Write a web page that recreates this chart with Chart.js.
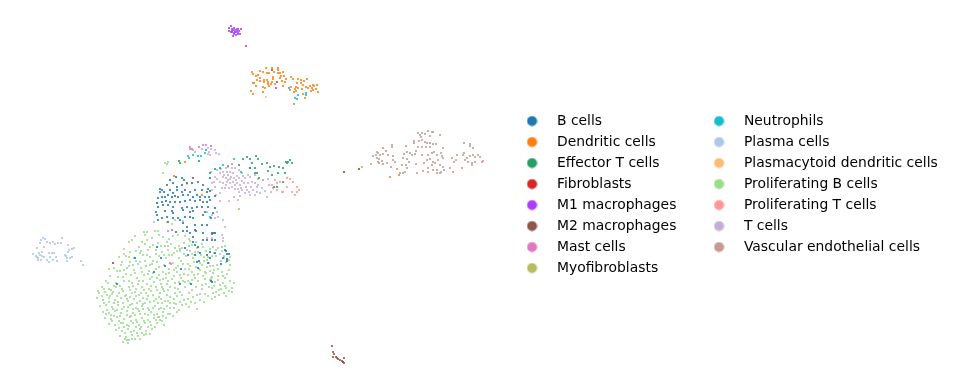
<!DOCTYPE html>
<html><head><meta charset="utf-8">
<style>html,body{margin:0;padding:0;background:#fff}canvas{display:block}</style>
<script src="https://cdn.jsdelivr.net/npm/chart.js@4"></script></head>
<body><canvas id="c" width="953" height="389"></canvas>
<script>
const categories=["B cells","Dendritic cells","Effector T cells","Fibroblasts","M1 macrophages","M2 macrophages","Mast cells","Myofibroblasts","Neutrophils","Plasma cells","Plasmacytoid dendritic cells","Proliferating B cells","Proliferating T cells","T cells","Vascular endothelial cells"];
const colors=["#1f77b4","#ff7f0e","#279e68","#d62728","#aa40fc","#8c564b","#e377c2","#b5bd61","#17becf","#aec7e8","#ffbb78","#98df8a","#ff9896","#c5b0d5","#c49c94"];
const bCells=[[17.6,17.7],[18.2,17.8],[18.4,18.0],[17.0,18.0],[16.7,18.5],[17.3,18.3],[17.7,18.7],[18.2,18.5],[18.7,18.3],[19.2,18.3],[19.8,18.2],[20.3,18.5],[21.0,17.8],[16.0,18.9],[16.2,19.0],[16.0,19.2],[16.4,19.2],[17.0,19.0],[17.3,19.3],[17.7,19.0],[18.2,19.2],[18.5,19.0],[19.0,19.2],[19.5,19.0],[20.2,19.0],[20.7,19.2],[20.8,18.9],[21.0,19.1],[15.8,19.8],[16.2,19.7],[16.5,19.7],[16.8,19.5],[17.2,19.7],[17.5,19.6],[17.8,19.7],[18.3,19.5],[18.8,19.5],[19.3,19.7],[19.7,19.5],[20.0,19.7],[20.5,19.7],[20.9,19.7],[21.5,19.6],[15.7,20.3],[16.2,20.2],[16.6,20.1],[17.0,20.2],[17.5,20.2],[18.0,20.2],[18.5,20.1],[19.0,20.0],[19.5,20.1],[20.0,20.0],[20.3,20.2],[20.7,20.2],[21.0,20.0],[15.8,20.7],[16.3,20.5],[16.8,20.5],[17.3,20.7],[18.2,20.8],[18.7,20.7],[19.2,20.8],[19.7,20.7],[20.2,20.7],[20.8,20.7],[15.6,21.2],[16.5,21.1],[17.2,21.1],[17.3,21.3],[18.3,21.0],[19.0,21.2],[19.3,21.1],[21.3,21.3],[20.5,21.2],[15.7,21.5],[15.8,22.0],[16.7,21.7],[17.8,21.8],[18.0,22.0],[18.5,21.7],[19.0,21.7],[19.3,21.8],[17.3,21.8],[20.3,21.5],[21.1,21.8],[21.5,20.8],[16.2,21.8],[16.8,22.2],[18.3,22.3],[19.5,22.5],[20.2,22.5],[20.7,22.5],[18.7,22.7],[19.5,23.0],[19.0,23.3],[18.3,23.1],[21.2,23.3],[21.5,23.3],[19.3,23.7],[20.3,23.3],[15.7,24.7],[13.5,25.8],[16.1,25.8],[16.5,26.6],[15.4,27.2],[11.7,28.4],[18.0,28.4],[17.6,23.2],[19.6,23.1],[18.7,23.1],[21.2,23.4],[21.4,23.3],[19.3,24.2],[19.5,24.5],[19.8,24.7],[18.5,24.8],[20.3,24.0],[20.7,24.0],[21.2,24.0],[21.5,24.0],[20.0,25.3],[18.8,25.5],[19.5,25.5],[20.7,25.5],[21.0,25.2],[21.5,25.3],[19.9,26.1],[19.7,26.2],[18.1,26.9],[19.8,26.8],[20.8,26.3],[22.1,26.4],[21.0,25.8],[22.6,25.1],[22.7,25.4],[22.3,25.8],[22.9,25.4],[22.7,26.1],[22.5,25.0],[19.1,28.4],[21.1,28.1],[21.2,28.2],[22.7,25.9]];
const dendriticCells=[[25.2,7.2],[25.3,7.4],[25.6,7.6],[25.8,7.5],[26.0,7.1],[26.3,7.2],[26.6,6.8],[26.7,7.3],[26.9,7.3],[27.2,6.8],[27.4,7.2],[27.8,6.8],[27.8,7.0],[27.8,7.3],[28.0,7.3],[28.3,7.2],[28.4,7.6],[28.1,7.6],[28.0,7.8],[27.3,7.7],[27.3,7.9],[26.0,7.8],[25.7,8.0],[25.4,8.3],[25.3,8.3],[26.0,8.1],[26.4,8.0],[26.4,8.2],[26.7,8.0],[26.8,8.2],[27.2,8.2],[27.1,8.4],[26.8,8.4],[26.9,8.6],[27.5,8.4],[26.3,8.7],[26.5,8.8],[25.6,8.6],[25.1,9.1],[25.3,9.4],[26.3,9.2],[28.2,8.1],[28.3,8.6],[28.5,8.2],[29.1,8.7],[29.1,7.7],[29.3,7.9],[29.8,7.9],[30.1,8.0],[30.4,8.1],[30.7,7.9],[29.7,8.3],[30.1,8.3],[30.3,8.5],[29.6,8.7],[29.5,8.9],[29.8,8.8],[30.2,8.9],[30.6,8.7],[30.8,8.8],[31.0,8.6],[31.3,8.5],[31.4,8.6],[31.7,8.5],[31.2,8.8],[31.3,9.0],[31.6,8.9],[31.1,9.1],[31.8,9.2],[29.0,9.0],[29.4,9.2],[29.6,9.1],[30.3,9.4],[30.5,9.8],[29.4,10.4],[28.6,7.9],[39.0,17.7],[39.9,17.5],[17.4,17.6],[18.5,16.2],[20.2,19.5]];
const effectorTCells=[[17.9,16.1],[19.9,16.1],[21.0,17.3],[21.5,16.9],[22.0,16.8],[23.9,16.5],[24.3,15.9],[24.7,15.7],[25.0,15.9],[25.2,16.3],[25.6,15.6],[25.8,15.9],[26.2,16.4],[26.7,16.3],[27.0,16.7],[27.4,16.6],[27.9,16.7],[28.3,16.8],[28.6,16.2],[28.8,16.2],[29.2,16.3],[29.0,16.0],[28.7,16.3],[25.5,17.3],[25.7,17.3],[25.9,17.8],[26.8,17.1],[27.2,17.5],[27.8,17.3],[28.5,17.3],[27.4,18.7],[27.7,18.7],[28.3,18.2],[25.5,16.8],[25.0,16.8],[18.0,16.3]];
const fibroblasts=[[34.4,17.2],[35.9,16.9]];
const m1Macrophages=[[23.1,2.6],[22.9,2.8],[23.2,2.9],[23.4,2.8],[23.7,2.9],[23.8,2.9],[24.1,2.9],[22.9,3.1],[23.2,3.1],[23.3,3.0],[23.5,3.0],[23.7,3.1],[23.9,3.1],[23.2,3.2],[23.4,3.3],[23.6,3.2],[23.8,3.3],[23.1,3.2],[23.4,3.4],[23.6,3.5],[23.8,3.4],[24.0,3.4],[23.3,3.6],[23.5,3.2],[24.6,4.6],[27.6,8.8]];
const m2Macrophages=[[33.2,34.6],[33.3,35.2],[33.4,35.4],[33.3,35.7],[33.6,35.7],[33.7,35.8],[33.8,35.9],[34.0,36.0],[34.2,36.1],[34.3,36.2],[34.4,35.8],[34.4,36.3],[34.3,36.2],[11.3,26.3],[27.7,8.2],[27.2,7.0],[25.0,16.8],[19.3,17.8]];
const mastCells=[[19.0,14.9],[19.2,14.9],[19.9,14.7],[20.3,14.5],[20.6,14.5],[21.1,14.6],[19.0,14.7],[23.2,16.4],[17.0,26.3],[16.8,23.1],[17.1,26.4],[17.2,23.0]];
const myofibroblasts=[[36.2,16.7],[37.1,16.4],[23.9,20.9]];
const neutrophils=[[28.9,8.8],[29.5,9.8],[29.7,9.9],[29.8,9.5],[30.6,9.3],[30.6,9.5],[18.8,15.6],[18.9,15.8],[19.3,15.5],[19.8,15.6],[20.1,15.6],[20.6,15.0],[20.5,15.3],[22.3,16.5],[22.8,16.6],[23.4,15.9],[24.1,17.2],[21.0,21.7]];
const plasmaCells=[[4.1,24.0],[4.3,23.8],[4.5,23.9],[4.7,24.2],[5.0,24.3],[5.3,24.2],[5.5,24.4],[5.8,24.3],[6.1,24.3],[6.2,23.8],[6.8,24.5],[7.2,24.9],[7.4,24.8],[3.7,24.8],[4.4,24.7],[3.3,25.4],[3.7,25.7],[3.8,25.8],[4.0,25.5],[4.2,25.6],[4.4,25.7],[4.1,26.0],[4.9,26.2],[4.9,25.3],[5.2,25.3],[5.4,25.3],[5.6,25.7],[5.3,26.0],[5.7,26.1],[6.5,25.5],[6.7,25.8],[6.7,26.1],[7.0,25.8],[7.2,25.7],[6.8,25.2],[6.9,25.0],[8.1,26.1],[8.3,26.5],[3.6,25.6],[4.7,26.0],[3.9,25.3],[4.2,25.2],[3.8,26.0],[5.0,25.7],[6.6,25.6],[4.0,24.3]];
const plasmacytoidDendriticCells=[[26.6,9.7],[18.7,18.4],[16.7,22.2]];
const proliferatingBCells=[[14.7,23.2],[15.5,23.1],[13.5,23.6],[15.2,23.8],[14.7,24.0],[16.3,23.7],[16.9,23.9],[17.8,23.5],[18.5,23.6],[12.9,24.2],[13.2,24.0],[13.9,24.7],[14.5,24.4],[15.3,24.5],[15.8,24.3],[16.5,24.6],[17.1,24.4],[17.9,24.6],[18.4,24.3],[19.2,24.5],[12.4,24.9],[13.0,25.2],[14.1,25.1],[14.8,25.0],[15.6,25.0],[16.2,25.2],[16.8,25.0],[17.4,25.3],[18.0,25.1],[18.7,25.0],[19.5,25.2],[20.3,24.7],[21.0,24.9],[21.8,24.8],[22.5,24.6],[11.9,25.7],[12.6,25.6],[13.4,25.8],[14.3,25.5],[15.0,25.7],[15.9,25.6],[16.6,25.8],[17.2,25.5],[17.9,25.8],[18.6,25.6],[19.3,25.8],[20.1,25.5],[20.8,25.7],[21.6,25.6],[22.4,25.8],[11.3,26.3],[12.1,26.5],[13.0,26.2],[13.8,26.4],[14.5,26.1],[15.2,26.4],[15.7,26.2],[16.4,26.5],[17.3,26.3],[18.1,26.1],[18.8,26.4],[19.4,26.2],[20.2,26.5],[20.9,26.3],[21.7,26.5],[22.6,26.2],[23.0,26.5],[10.9,26.9],[12.0,27.1],[12.7,26.8],[13.4,27.0],[14.1,26.8],[14.9,27.1],[15.6,26.9],[16.3,27.2],[16.9,26.9],[17.7,27.2],[18.5,26.9],[19.2,27.2],[20.0,27.0],[20.6,27.3],[21.4,27.0],[22.2,27.2],[22.9,27.0],[11.0,27.6],[12.3,27.7],[13.1,27.5],[13.7,27.8],[14.4,27.5],[15.2,27.7],[15.9,27.5],[16.6,27.8],[17.4,27.6],[18.1,27.8],[18.8,27.5],[19.5,27.8],[20.3,27.6],[21.1,27.8],[21.8,27.6],[22.5,27.8],[10.6,28.1],[11.6,28.3],[12.4,28.1],[13.2,28.3],[13.9,28.1],[14.7,28.4],[15.4,28.2],[16.1,28.4],[16.8,28.1],[17.5,28.3],[18.3,28.1],[19.0,28.3],[19.8,28.1],[20.6,28.4],[21.5,28.2],[22.3,28.3],[23.0,28.1],[23.4,28.3],[10.2,28.7],[10.9,28.9],[11.6,28.7],[12.2,28.9],[12.9,28.7],[13.6,28.9],[14.2,28.7],[14.9,28.9],[15.6,28.7],[16.3,28.9],[17.0,28.7],[17.8,28.9],[18.5,28.7],[19.2,29.0],[20.2,28.9],[21.2,28.8],[21.9,29.0],[22.6,28.8],[23.2,28.8],[9.9,29.3],[10.5,29.2],[11.2,29.4],[11.9,29.3],[12.6,29.5],[13.2,29.3],[13.9,29.5],[14.6,29.3],[15.3,29.5],[16.0,29.3],[16.7,29.5],[17.5,29.3],[18.2,29.5],[18.9,29.3],[19.7,29.5],[20.5,29.4],[21.3,29.3],[21.9,29.5],[22.4,29.3],[22.9,29.1],[9.7,29.8],[10.3,30.0],[10.9,29.8],[11.5,30.0],[12.1,29.8],[12.8,30.1],[13.4,29.9],[14.0,30.1],[14.7,29.9],[15.4,30.1],[16.1,29.9],[16.8,30.1],[17.4,29.9],[18.0,30.2],[18.8,29.9],[20.0,30.0],[21.2,29.9],[10.0,30.6],[10.6,30.5],[11.2,30.7],[11.8,30.5],[12.4,30.7],[13.0,30.5],[13.6,30.8],[14.2,30.6],[14.8,30.8],[15.5,30.6],[16.1,30.8],[16.7,30.6],[17.4,30.8],[18.2,30.5],[18.9,30.7],[10.3,31.2],[10.9,31.3],[11.5,31.1],[12.1,31.3],[12.7,31.1],[13.3,31.3],[13.9,31.1],[14.5,31.4],[15.1,31.2],[15.7,31.4],[16.3,31.2],[17.0,31.4],[17.7,31.2],[10.5,31.8],[11.1,31.9],[11.7,31.7],[12.4,31.9],[13.0,31.7],[13.6,32.0],[14.2,31.8],[14.8,32.0],[15.4,31.8],[16.0,32.0],[16.6,31.8],[17.3,31.6],[10.9,32.4],[11.5,32.5],[12.1,32.3],[12.7,32.5],[13.3,32.3],[13.9,32.5],[14.5,32.3],[15.1,32.5],[15.7,32.3],[16.4,32.5],[11.6,33.0],[12.2,33.1],[12.8,32.9],[13.4,33.1],[14.0,32.9],[14.6,33.1],[15.2,32.9],[12.0,33.6],[12.6,33.7],[13.2,33.5],[13.8,33.6],[14.4,33.5],[15.0,33.4],[12.3,34.2],[12.9,34.0],[13.5,33.9],[12.5,33.9],[14.0,33.9],[12.5,29.6],[14.3,30.4],[11.4,30.3],[15.8,30.3],[13.1,31.6],[15.4,31.5],[12.4,32.7],[14.2,33.3],[16.8,29.0],[19.6,26.7],[17.8,26.6],[20.7,26.7],[22.2,25.1],[21.3,24.7],[16.5,16.3],[16.7,16.4],[16.8,16.2],[16.3,17.3],[15.4,22.2],[15.8,23.1],[17.5,22.0],[17.2,22.4],[14.5,23.5],[18.9,23.9],[19.6,24.2],[21.1,28.0],[20.5,27.9],[19.0,26.6],[17.0,29.7],[15.1,29.1],[13.3,28.6],[12.4,27.0],[11.0,29.6],[13.6,26.1],[15.0,26.5],[16.6,27.4],[18.4,27.4],[22.1,28.9],[21.5,29.7],[19.7,30.9],[17.9,31.0],[17.6,30.4],
[11.1,29.0],[11.3,29.2],[10.7,29.5],[10.4,28.9],[11.7,29.6],[12.3,29.1],[12.0,28.6],[11.4,28.6],[10.8,28.3],[13.0,29.0],[13.5,29.2],[13.8,28.4],[14.4,29.0],[14.1,29.3],[14.8,29.6],[15.1,28.6],[15.7,29.0],[15.9,29.7],[16.4,29.1],[16.2,28.7],[13.0,29.7],[13.6,29.6],[14.3,29.8],[11.8,30.2],[12.3,30.3],[12.7,29.9],[13.2,30.4],[13.7,30.3],[14.5,30.3],[15.0,30.2],[15.6,29.9],[16.2,30.3],[16.5,30.1],[17.0,30.3],[10.9,30.2],[10.4,30.3],[10.7,31.0],[11.3,30.9],[11.7,31.0],[12.2,30.9],[12.8,30.7],[13.3,30.9],[13.8,30.9],[14.3,30.9],[14.9,31.0],[15.3,30.8],[15.9,30.9],[16.4,30.9],[17.0,30.8],[17.4,30.3],[11.1,31.5],[11.4,31.6],[12.0,31.6],[12.7,31.5],[13.5,31.5],[14.0,31.4],[14.8,31.5],[15.8,31.7],[16.3,31.6],[16.8,31.4],[11.2,32.1],[11.9,32.1],[12.3,32.3],[13.1,32.1],[13.7,32.2],[14.4,32.1],[15.0,32.2],[15.6,32.0],[16.2,32.1],[12.9,32.6],[13.6,32.7],[14.1,32.7],[14.8,32.7],[15.5,32.7],[11.9,32.8],[12.5,33.3],[13.1,33.2],[13.7,33.3],[14.6,33.4],[12.7,34.0],[13.2,33.9],[12.8,34.3],[11.4,26.8],[11.7,27.1],[12.2,26.2],[12.9,26.6],[13.3,26.5],[14.0,26.2],[14.6,26.6],[15.3,26.1],[15.9,26.7],[13.5,27.3],[14.2,27.2],[14.8,27.4],[15.3,27.3],[15.7,27.8],[12.6,27.4],[11.8,27.7],[12.9,28.1],[14.3,28.1],[15.0,27.9],[16.0,28.0],[16.7,28.4],[17.2,27.9],[17.9,28.2],[17.5,28.8],[18.0,29.2],[18.5,28.2],[17.7,29.6],[18.4,30.0],[19.3,29.7],[19.1,30.2],[16.3,27.9],[16.9,27.3],[17.6,26.8],[18.3,26.4],[18.9,26.9],[19.4,27.5],[19.9,26.9],[20.4,26.1],[20.5,27.2],[21.0,27.1],[21.3,26.6],[21.8,26.9],[22.1,26.1],[21.2,27.7],[21.8,28.0],[22.3,27.6],[22.7,27.4],[22.0,28.5],[22.5,28.6],[21.4,28.6],[20.9,28.7],[20.2,28.5],[19.6,28.7],[19.2,28.0],[18.8,28.1],[18.0,27.5],[17.4,27.0],[19.8,27.4],[20.0,26.3],[20.4,25.7],[19.8,25.2],[19.2,25.4],[18.4,25.4],[17.7,25.1],[16.9,25.5],[16.4,25.5],[15.6,25.4],[14.7,25.5],[14.0,25.3],[13.6,25.1],[12.9,25.7],[12.4,25.4],[15.0,24.7],[14.2,24.2],[16.1,24.6],[16.7,24.2],[17.5,24.8],[18.2,24.8],[18.9,24.6],[19.7,24.8],[20.6,25.1],[21.4,25.3],[22.0,25.4],[23.0,25.7],[22.9,26.0],[21.2,25.6],[20.7,26.0],[19.0,24.1],[17.3,23.6],[15.9,23.5],[14.4,23.2],[23.2,29.2],[22.6,29.6],[21.6,29.2],[20.8,29.6],[20.4,30.2],[19.5,30.3],[18.6,30.4],[10.2,29.6],[10.6,31.4],[9.8,29.1]];
const proliferatingTCells=[[26.3,18.0],[26.9,18.5],[27.2,18.5],[27.5,18.0],[27.7,18.3],[27.7,19.0],[28.2,19.2],[28.7,18.7],[28.7,17.8],[29.0,17.9],[29.3,18.2],[29.7,18.7],[29.9,19.0],[29.7,19.2],[29.5,19.5],[29.2,19.2],[28.0,18.2],[28.3,19.2],[27.3,18.8],[15.9,31.7]];
const tCells=[[19.3,15.0],[19.5,15.2],[20.2,14.9],[20.6,15.0],[20.8,14.8],[21.1,14.6],[20.9,15.2],[21.1,14.9],[21.5,15.0],[21.6,15.3],[21.9,15.4],[20.8,15.4],[21.0,15.5],[21.1,17.2],[21.5,17.7],[21.7,17.9],[21.4,18.2],[22.0,17.3],[22.1,16.9],[22.3,17.2],[22.6,16.8],[22.8,16.7],[23.2,16.8],[23.5,16.8],[23.9,17.0],[24.2,17.3],[22.3,17.7],[22.6,17.8],[22.8,17.5],[23.1,17.7],[23.3,17.3],[23.7,17.6],[23.9,17.8],[24.2,18.1],[24.5,17.8],[24.8,17.5],[22.0,18.2],[22.3,18.3],[22.7,18.2],[23.0,18.3],[23.3,18.2],[23.7,18.3],[24.0,18.5],[24.4,18.3],[24.8,18.3],[25.2,18.2],[25.5,18.3],[25.8,18.5],[24.7,19.0],[24.2,19.0],[23.9,19.2],[24.5,19.3],[25.0,19.5],[25.5,19.5],[26.0,19.3],[26.5,19.1],[26.2,18.8],[25.3,19.0],[25.7,19.2],[22.9,18.8],[23.5,18.9],[22.0,19.3],[21.6,19.5],[22.0,20.1],[22.9,20.1],[23.4,19.7],[23.8,20.0],[24.0,19.6],[22.6,18.5],[23.2,18.7],[22.2,18.8],[21.5,18.7],[21.2,19.0],[25.0,17.7],[25.5,17.5],[25.8,17.9],[26.3,18.0],[26.8,17.9],[27.1,19.2],[26.7,19.7],[21.2,18.3],[24.6,18.7],[25.1,18.7],[25.7,18.7],[24.3,17.6],[22.7,17.2],[23.4,17.8],[21.7,17.0],[23.0,17.9],[21.7,21.2],[21.8,21.7],[22.3,22.0],[22.5,22.7],[22.2,23.5],[22.3,23.8],[20.7,21.2],[21.2,21.5],[17.2,23.0],[21.2,23.8],[20.7,23.8],[21.5,21.8],[18.3,22.1],[22.4,25.6],[21.6,25.0],[22.2,24.7],[21.0,26.6],[21.3,27.3],[20.0,29.4],[18.0,24.9],[16.8,24.6],[21.0,28.0],[19.0,25.1],[22.3,24.1],[20.2,24.4],[22.4,17.5],[23.6,18.0],[24.1,18.8],[22.8,18.0],[23.0,17.2],[23.5,18.5],[22.5,18.8],[23.8,18.9],[24.9,19.2]];
const vascularEndothelialCells=[[37.7,15.2],[37.8,15.3],[37.6,15.5],[37.3,15.6],[38.0,15.5],[37.7,15.8],[37.9,15.9],[38.2,16.1],[37.8,16.2],[38.3,14.8],[38.6,15.1],[38.3,15.4],[38.8,15.5],[39.2,14.5],[39.2,14.7],[39.3,15.6],[39.3,16.0],[39.5,16.2],[38.7,16.3],[38.3,16.4],[37.9,16.3],[39.1,16.7],[40.6,14.6],[40.7,15.2],[40.4,15.4],[40.3,15.8],[41.0,15.3],[41.2,15.5],[41.5,15.4],[41.6,15.1],[40.7,15.9],[40.6,16.5],[40.2,16.5],[40.9,16.2],[41.6,16.4],[39.7,16.9],[40.0,17.3],[40.3,17.3],[40.7,16.8],[40.5,17.2],[41.7,17.3],[42.0,13.5],[42.2,13.3],[42.5,13.4],[42.8,13.1],[43.2,13.2],[43.3,13.2],[41.8,13.3],[42.1,13.7],[43.0,13.6],[44.0,13.5],[41.4,14.1],[41.4,14.3],[41.9,14.1],[42.2,14.0],[42.5,14.2],[42.7,14.3],[43.0,14.3],[43.3,14.4],[43.6,14.4],[41.8,14.7],[42.2,14.7],[42.6,14.7],[43.0,14.7],[44.3,14.8],[42.2,15.5],[42.8,15.5],[43.2,15.3],[43.4,15.2],[43.7,15.5],[44.1,15.3],[44.2,15.6],[42.7,16.0],[42.4,16.3],[43.0,15.9],[43.3,16.2],[43.8,16.0],[44.3,15.8],[43.2,16.5],[43.5,16.3],[44.0,16.5],[44.3,16.7],[42.3,17.1],[42.8,16.8],[42.8,17.2],[43.3,17.0],[43.7,17.0],[44.1,17.2],[44.4,17.0],[43.7,17.3],[44.0,17.3],[45.0,16.8],[45.3,17.2],[45.2,15.8],[45.4,16.2],[45.7,15.5],[45.6,16.0],[46.2,16.8],[46.4,14.3],[47.0,14.4],[47.0,14.6],[47.3,14.8],[46.4,15.3],[46.3,15.5],[46.7,15.8],[47.0,15.6],[47.3,15.5],[47.5,15.7],[47.8,15.5],[48.0,15.7],[46.8,16.2],[47.2,16.3],[47.5,16.2],[48.2,16.2],[48.3,16.1],[47.2,16.5],[46.5,16.0]];
const seriesValues=[bCells,dendriticCells,effectorTCells,fibroblasts,m1Macrophages,m2Macrophages,mastCells,myofibroblasts,neutrophils,plasmaCells,plasmacytoidDendriticCells,proliferatingBCells,proliferatingTCells,tCells,vascularEndothelialCells];

function legendDot(color){
  const d=document.createElement('canvas');d.width=11;d.height=11;
  const g=d.getContext('2d');g.fillStyle=color;g.beginPath();g.arc(5.5,5.5,5,0,Math.PI*2);g.fill();
  return d;
}
const placeLegend={id:'placeLegend',afterLayout(chart){
  const l=chart.legend;
  l.maxHeight=185;l.fit();
  l.left=506.9;l.top=107;l.right=l.left+440;l.bottom=l.top+190;l.width=440;l.height=190;
  l.columnSizes[0].width=187-7.11;
  l.adjustHitBoxes();
}};
new Chart(document.getElementById('c'),{
  type:'scatter',
  data:{datasets:categories.map((name,i)=>({label:name,data:seriesValues[i].map(p=>({x:p[0],y:p[1]})),backgroundColor:colors[i],pointRadius:1.1,pointBorderWidth:0,borderWidth:0}))},
  options:{
    responsive:false,animation:false,devicePixelRatio:1,
    layout:{padding:0},
    scales:{
      x:{type:'linear',min:0.4,max:94.9,display:false},
      y:{type:'linear',min:0.4,max:38.5,reverse:true,display:false}
    },
    plugins:{
      tooltip:{enabled:false},
      title:{display:false},
      legend:{
        position:'chartArea',align:'start',
        labels:{
          font:{family:'"DejaVu Sans"',size:13.89,lineHeight:1},
          color:'#000',usePointStyle:true,pointStyleWidth:36,boxHeight:10,padding:7.11,
          generateLabels(chart){return chart.data.datasets.map((d,i)=>({text:d.label,datasetIndex:i,fontColor:'#000',fillStyle:colors[i],strokeStyle:colors[i],lineWidth:0,pointStyle:legendDot(colors[i])}));}
        }
      }
    }
  },
  plugins:[placeLegend]
});
</script></body></html>
